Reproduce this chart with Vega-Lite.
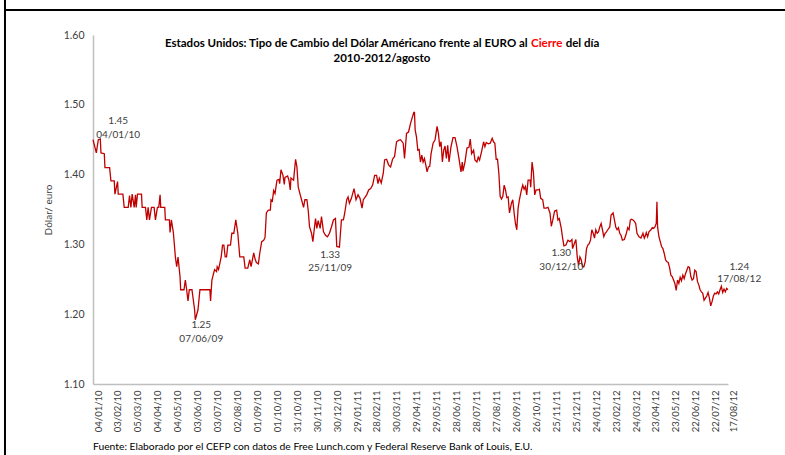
{
"$schema":"https://vega.github.io/schema/vega-lite/v6.json",
"width":635,"height":349,
"autosize":{"type":"none"},
"padding":{"left":93,"top":35,"right":57,"bottom":71},
"background":"white",
"config":{"view":{"stroke":null},"font":"Lato"},
"datasets":{
"serie":[
{"fecha":"2010-01-04","cierre":1.450},{"fecha":"2010-01-09","cierre":1.431},{"fecha":"2010-01-12","cierre":1.450},{"fecha":"2010-01-15","cierre":1.451},{"fecha":"2010-01-16","cierre":1.431},{"fecha":"2010-01-21","cierre":1.430},{"fecha":"2010-01-22","cierre":1.410},{"fecha":"2010-01-29","cierre":1.410},{"fecha":"2010-01-31","cierre":1.391},{"fecha":"2010-02-05","cierre":1.391},{"fecha":"2010-02-06","cierre":1.372},{"fecha":"2010-02-10","cierre":1.390},{"fecha":"2010-02-11","cierre":1.372},{"fecha":"2010-02-18","cierre":1.372},{"fecha":"2010-02-20","cierre":1.353},{"fecha":"2010-02-26","cierre":1.353},{"fecha":"2010-02-28","cierre":1.370},{"fecha":"2010-03-02","cierre":1.353},{"fecha":"2010-03-04","cierre":1.372},{"fecha":"2010-03-07","cierre":1.353},{"fecha":"2010-03-09","cierre":1.371},{"fecha":"2010-03-10","cierre":1.353},{"fecha":"2010-03-12","cierre":1.372},{"fecha":"2010-03-18","cierre":1.372},{"fecha":"2010-03-19","cierre":1.353},{"fecha":"2010-03-24","cierre":1.353},{"fecha":"2010-03-26","cierre":1.335},{"fecha":"2010-03-28","cierre":1.353},{"fecha":"2010-03-30","cierre":1.335},{"fecha":"2010-04-02","cierre":1.353},{"fecha":"2010-04-06","cierre":1.353},{"fecha":"2010-04-08","cierre":1.335},{"fecha":"2010-04-11","cierre":1.353},{"fecha":"2010-04-13","cierre":1.353},{"fecha":"2010-04-15","cierre":1.371},{"fecha":"2010-04-16","cierre":1.353},{"fecha":"2010-04-22","cierre":1.353},{"fecha":"2010-04-23","cierre":1.335},{"fecha":"2010-04-29","cierre":1.335},{"fecha":"2010-04-30","cierre":1.317},{"fecha":"2010-05-02","cierre":1.335},{"fecha":"2010-05-05","cierre":1.317},{"fecha":"2010-05-08","cierre":1.282},{"fecha":"2010-05-10","cierre":1.268},{"fecha":"2010-05-12","cierre":1.282},{"fecha":"2010-05-15","cierre":1.254},{"fecha":"2010-05-16","cierre":1.235},{"fecha":"2010-05-21","cierre":1.235},{"fecha":"2010-05-23","cierre":1.249},{"fecha":"2010-05-25","cierre":1.235},{"fecha":"2010-05-27","cierre":1.219},{"fecha":"2010-05-29","cierre":1.235},{"fecha":"2010-06-02","cierre":1.235},{"fecha":"2010-06-06","cierre":1.206},{"fecha":"2010-06-07","cierre":1.192},{"fecha":"2010-06-11","cierre":1.206},{"fecha":"2010-06-14","cierre":1.235},{"fecha":"2010-06-29","cierre":1.235},{"fecha":"2010-06-30","cierre":1.219},{"fecha":"2010-07-02","cierre":1.249},{"fecha":"2010-07-06","cierre":1.264},{"fecha":"2010-07-09","cierre":1.261},{"fecha":"2010-07-10","cierre":1.268},{"fecha":"2010-07-12","cierre":1.264},{"fecha":"2010-07-16","cierre":1.282},{"fecha":"2010-07-18","cierre":1.299},{"fecha":"2010-07-20","cierre":1.299},{"fecha":"2010-07-22","cierre":1.282},{"fecha":"2010-07-24","cierre":1.282},{"fecha":"2010-07-26","cierre":1.299},{"fecha":"2010-07-30","cierre":1.299},{"fecha":"2010-08-01","cierre":1.316},{"fecha":"2010-08-04","cierre":1.316},{"fecha":"2010-08-07","cierre":1.335},{"fecha":"2010-08-10","cierre":1.316},{"fecha":"2010-08-13","cierre":1.282},{"fecha":"2010-08-19","cierre":1.282},{"fecha":"2010-08-21","cierre":1.266},{"fecha":"2010-08-25","cierre":1.266},{"fecha":"2010-08-28","cierre":1.278},{"fecha":"2010-08-30","cierre":1.268},{"fecha":"2010-09-03","cierre":1.288},{"fecha":"2010-09-05","cierre":1.279},{"fecha":"2010-09-07","cierre":1.274},{"fecha":"2010-09-10","cierre":1.272},{"fecha":"2010-09-12","cierre":1.287},{"fecha":"2010-09-15","cierre":1.304},{"fecha":"2010-09-18","cierre":1.306},{"fecha":"2010-09-20","cierre":1.310},{"fecha":"2010-09-22","cierre":1.345},{"fecha":"2010-09-25","cierre":1.349},{"fecha":"2010-09-28","cierre":1.349},{"fecha":"2010-09-29","cierre":1.364},{"fecha":"2010-10-01","cierre":1.362},{"fecha":"2010-10-03","cierre":1.377},{"fecha":"2010-10-05","cierre":1.373},{"fecha":"2010-10-08","cierre":1.392},{"fecha":"2010-10-11","cierre":1.393},{"fecha":"2010-10-12","cierre":1.387},{"fecha":"2010-10-14","cierre":1.407},{"fecha":"2010-10-17","cierre":1.399},{"fecha":"2010-10-19","cierre":1.386},{"fecha":"2010-10-20","cierre":1.396},{"fecha":"2010-10-24","cierre":1.398},{"fecha":"2010-10-26","cierre":1.392},{"fecha":"2010-10-28","cierre":1.378},{"fecha":"2010-10-29","cierre":1.395},{"fecha":"2010-11-02","cierre":1.392},{"fecha":"2010-11-05","cierre":1.422},{"fecha":"2010-11-07","cierre":1.411},{"fecha":"2010-11-09","cierre":1.382},{"fecha":"2010-11-12","cierre":1.371},{"fecha":"2010-11-14","cierre":1.364},{"fecha":"2010-11-17","cierre":1.353},{"fecha":"2010-11-19","cierre":1.364},{"fecha":"2010-11-22","cierre":1.364},{"fecha":"2010-11-24","cierre":1.349},{"fecha":"2010-11-26","cierre":1.325},{"fecha":"2010-11-29","cierre":1.316},{"fecha":"2010-12-01","cierre":1.304},{"fecha":"2010-12-03","cierre":1.321},{"fecha":"2010-12-05","cierre":1.337},{"fecha":"2010-12-07","cierre":1.323},{"fecha":"2010-12-09","cierre":1.334},{"fecha":"2010-12-12","cierre":1.323},{"fecha":"2010-12-14","cierre":1.340},{"fecha":"2010-12-17","cierre":1.318},{"fecha":"2010-12-20","cierre":1.313},{"fecha":"2010-12-23","cierre":1.311},{"fecha":"2010-12-26","cierre":1.316},{"fecha":"2010-12-29","cierre":1.325},{"fecha":"2011-01-01","cierre":1.335},{"fecha":"2011-01-04","cierre":1.337},{"fecha":"2011-01-06","cierre":1.297},{"fecha":"2011-01-10","cierre":1.296},{"fecha":"2011-01-13","cierre":1.335},{"fecha":"2011-01-16","cierre":1.335},{"fecha":"2011-01-18","cierre":1.345},{"fecha":"2011-01-21","cierre":1.364},{"fecha":"2011-01-23","cierre":1.368},{"fecha":"2011-01-25","cierre":1.359},{"fecha":"2011-01-28","cierre":1.366},{"fecha":"2011-02-01","cierre":1.380},{"fecha":"2011-02-04","cierre":1.364},{"fecha":"2011-02-07","cierre":1.371},{"fecha":"2011-02-10","cierre":1.366},{"fecha":"2011-02-13","cierre":1.352},{"fecha":"2011-02-15","cierre":1.364},{"fecha":"2011-02-18","cierre":1.368},{"fecha":"2011-02-20","cierre":1.371},{"fecha":"2011-02-23","cierre":1.378},{"fecha":"2011-02-26","cierre":1.380},{"fecha":"2011-03-01","cierre":1.385},{"fecha":"2011-03-04","cierre":1.399},{"fecha":"2011-03-07","cierre":1.399},{"fecha":"2011-03-09","cierre":1.387},{"fecha":"2011-03-11","cierre":1.395},{"fecha":"2011-03-14","cierre":1.388},{"fecha":"2011-03-17","cierre":1.402},{"fecha":"2011-03-19","cierre":1.421},{"fecha":"2011-03-22","cierre":1.422},{"fecha":"2011-03-25","cierre":1.414},{"fecha":"2011-03-28","cierre":1.411},{"fecha":"2011-03-31","cierre":1.422},{"fecha":"2011-04-03","cierre":1.426},{"fecha":"2011-04-06","cierre":1.447},{"fecha":"2011-04-09","cierre":1.449},{"fecha":"2011-04-12","cierre":1.450},{"fecha":"2011-04-16","cierre":1.445},{"fecha":"2011-04-18","cierre":1.423},{"fecha":"2011-04-21","cierre":1.459},{"fecha":"2011-04-24","cierre":1.461},{"fecha":"2011-04-27","cierre":1.473},{"fecha":"2011-04-30","cierre":1.483},{"fecha":"2011-05-02","cierre":1.489},{"fecha":"2011-05-03","cierre":1.489},{"fecha":"2011-05-04","cierre":1.464},{"fecha":"2011-05-06","cierre":1.454},{"fecha":"2011-05-08","cierre":1.435},{"fecha":"2011-05-10","cierre":1.436},{"fecha":"2011-05-12","cierre":1.418},{"fecha":"2011-05-14","cierre":1.428},{"fecha":"2011-05-16","cierre":1.418},{"fecha":"2011-05-18","cierre":1.423},{"fecha":"2011-05-20","cierre":1.414},{"fecha":"2011-05-22","cierre":1.404},{"fecha":"2011-05-24","cierre":1.411},{"fecha":"2011-05-26","cierre":1.412},{"fecha":"2011-05-28","cierre":1.430},{"fecha":"2011-05-31","cierre":1.445},{"fecha":"2011-06-03","cierre":1.450},{"fecha":"2011-06-06","cierre":1.469},{"fecha":"2011-06-08","cierre":1.459},{"fecha":"2011-06-10","cierre":1.440},{"fecha":"2011-06-12","cierre":1.447},{"fecha":"2011-06-14","cierre":1.418},{"fecha":"2011-06-16","cierre":1.435},{"fecha":"2011-06-18","cierre":1.441},{"fecha":"2011-06-20","cierre":1.423},{"fecha":"2011-06-22","cierre":1.442},{"fecha":"2011-06-24","cierre":1.418},{"fecha":"2011-06-27","cierre":1.440},{"fecha":"2011-06-30","cierre":1.453},{"fecha":"2011-07-03","cierre":1.453},{"fecha":"2011-07-06","cierre":1.440},{"fecha":"2011-07-09","cierre":1.423},{"fecha":"2011-07-12","cierre":1.404},{"fecha":"2011-07-14","cierre":1.418},{"fecha":"2011-07-15","cierre":1.405},{"fecha":"2011-07-18","cierre":1.418},{"fecha":"2011-07-21","cierre":1.438},{"fecha":"2011-07-24","cierre":1.439},{"fecha":"2011-07-26","cierre":1.451},{"fecha":"2011-07-28","cierre":1.430},{"fecha":"2011-07-31","cierre":1.435},{"fecha":"2011-08-02","cierre":1.421},{"fecha":"2011-08-05","cierre":1.418},{"fecha":"2011-08-07","cierre":1.425},{"fecha":"2011-08-09","cierre":1.421},{"fecha":"2011-08-12","cierre":1.433},{"fecha":"2011-08-15","cierre":1.447},{"fecha":"2011-08-17","cierre":1.440},{"fecha":"2011-08-19","cierre":1.446},{"fecha":"2011-08-22","cierre":1.444},{"fecha":"2011-08-25","cierre":1.445},{"fecha":"2011-08-28","cierre":1.452},{"fecha":"2011-08-30","cierre":1.447},{"fecha":"2011-09-01","cierre":1.445},{"fecha":"2011-09-03","cierre":1.422},{"fecha":"2011-09-05","cierre":1.422},{"fecha":"2011-09-07","cierre":1.402},{"fecha":"2011-09-09","cierre":1.369},{"fecha":"2011-09-11","cierre":1.365},{"fecha":"2011-09-13","cierre":1.369},{"fecha":"2011-09-15","cierre":1.385},{"fecha":"2011-09-17","cierre":1.378},{"fecha":"2011-09-19","cierre":1.367},{"fecha":"2011-09-21","cierre":1.368},{"fecha":"2011-09-23","cierre":1.345},{"fecha":"2011-09-26","cierre":1.359},{"fecha":"2011-09-28","cierre":1.364},{"fecha":"2011-09-30","cierre":1.345},{"fecha":"2011-10-02","cierre":1.330},{"fecha":"2011-10-04","cierre":1.321},{"fecha":"2011-10-06","cierre":1.352},{"fecha":"2011-10-08","cierre":1.364},{"fecha":"2011-10-11","cierre":1.378},{"fecha":"2011-10-13","cierre":1.385},{"fecha":"2011-10-15","cierre":1.379},{"fecha":"2011-10-17","cierre":1.383},{"fecha":"2011-10-19","cierre":1.371},{"fecha":"2011-10-21","cierre":1.392},{"fecha":"2011-10-24","cierre":1.392},{"fecha":"2011-10-25","cierre":1.382},{"fecha":"2011-10-27","cierre":1.418},{"fecha":"2011-10-29","cierre":1.404},{"fecha":"2011-10-31","cierre":1.371},{"fecha":"2011-11-02","cierre":1.378},{"fecha":"2011-11-05","cierre":1.378},{"fecha":"2011-11-07","cierre":1.379},{"fecha":"2011-11-09","cierre":1.366},{"fecha":"2011-11-12","cierre":1.364},{"fecha":"2011-11-14","cierre":1.352},{"fecha":"2011-11-17","cierre":1.352},{"fecha":"2011-11-20","cierre":1.353},{"fecha":"2011-11-23","cierre":1.345},{"fecha":"2011-11-25","cierre":1.326},{"fecha":"2011-11-27","cierre":1.334},{"fecha":"2011-11-30","cierre":1.348},{"fecha":"2011-12-03","cierre":1.349},{"fecha":"2011-12-05","cierre":1.335},{"fecha":"2011-12-07","cierre":1.337},{"fecha":"2011-12-10","cierre":1.323},{"fecha":"2011-12-12","cierre":1.309},{"fecha":"2011-12-14","cierre":1.298},{"fecha":"2011-12-17","cierre":1.299},{"fecha":"2011-12-20","cierre":1.306},{"fecha":"2011-12-23","cierre":1.304},{"fecha":"2011-12-26","cierre":1.307},{"fecha":"2011-12-27","cierre":1.294},{"fecha":"2011-12-30","cierre":1.302},{"fecha":"2012-01-01","cierre":1.307},{"fecha":"2012-01-03","cierre":1.282},{"fecha":"2012-01-05","cierre":1.270},{"fecha":"2012-01-07","cierre":1.282},{"fecha":"2012-01-09","cierre":1.278},{"fecha":"2012-01-11","cierre":1.268},{"fecha":"2012-01-13","cierre":1.268},{"fecha":"2012-01-15","cierre":1.275},{"fecha":"2012-01-17","cierre":1.294},{"fecha":"2012-01-19","cierre":1.299},{"fecha":"2012-01-21","cierre":1.301},{"fecha":"2012-01-23","cierre":1.306},{"fecha":"2012-01-25","cierre":1.321},{"fecha":"2012-01-27","cierre":1.316},{"fecha":"2012-01-29","cierre":1.309},{"fecha":"2012-01-31","cierre":1.321},{"fecha":"2012-02-02","cierre":1.316},{"fecha":"2012-02-04","cierre":1.318},{"fecha":"2012-02-06","cierre":1.325},{"fecha":"2012-02-08","cierre":1.330},{"fecha":"2012-02-10","cierre":1.321},{"fecha":"2012-02-12","cierre":1.311},{"fecha":"2012-02-14","cierre":1.316},{"fecha":"2012-02-16","cierre":1.318},{"fecha":"2012-02-18","cierre":1.321},{"fecha":"2012-02-21","cierre":1.325},{"fecha":"2012-02-23","cierre":1.342},{"fecha":"2012-02-26","cierre":1.345},{"fecha":"2012-02-28","cierre":1.335},{"fecha":"2012-03-01","cierre":1.325},{"fecha":"2012-03-03","cierre":1.321},{"fecha":"2012-03-05","cierre":1.324},{"fecha":"2012-03-07","cierre":1.316},{"fecha":"2012-03-09","cierre":1.313},{"fecha":"2012-03-11","cierre":1.306},{"fecha":"2012-03-14","cierre":1.307},{"fecha":"2012-03-17","cierre":1.316},{"fecha":"2012-03-19","cierre":1.324},{"fecha":"2012-03-21","cierre":1.321},{"fecha":"2012-03-23","cierre":1.335},{"fecha":"2012-03-25","cierre":1.336},{"fecha":"2012-03-27","cierre":1.335},{"fecha":"2012-03-29","cierre":1.333},{"fecha":"2012-03-31","cierre":1.330},{"fecha":"2012-04-02","cierre":1.316},{"fecha":"2012-04-05","cierre":1.311},{"fecha":"2012-04-08","cierre":1.309},{"fecha":"2012-04-11","cierre":1.316},{"fecha":"2012-04-13","cierre":1.309},{"fecha":"2012-04-14","cierre":1.311},{"fecha":"2012-04-16","cierre":1.317},{"fecha":"2012-04-18","cierre":1.311},{"fecha":"2012-04-20","cierre":1.318},{"fecha":"2012-04-23","cierre":1.321},{"fecha":"2012-04-25","cierre":1.324},{"fecha":"2012-04-27","cierre":1.323},{"fecha":"2012-04-29","cierre":1.325},{"fecha":"2012-05-01","cierre":1.330},{"fecha":"2012-05-02","cierre":1.361},{"fecha":"2012-05-03","cierre":1.325},{"fecha":"2012-05-05","cierre":1.311},{"fecha":"2012-05-07","cierre":1.304},{"fecha":"2012-05-09","cierre":1.297},{"fecha":"2012-05-11","cierre":1.294},{"fecha":"2012-05-13","cierre":1.287},{"fecha":"2012-05-15","cierre":1.278},{"fecha":"2012-05-17","cierre":1.275},{"fecha":"2012-05-19","cierre":1.274},{"fecha":"2012-05-21","cierre":1.267},{"fecha":"2012-05-23","cierre":1.256},{"fecha":"2012-05-25","cierre":1.254},{"fecha":"2012-05-27","cierre":1.249},{"fecha":"2012-05-29","cierre":1.244},{"fecha":"2012-05-31","cierre":1.234},{"fecha":"2012-06-02","cierre":1.249},{"fecha":"2012-06-04","cierre":1.244},{"fecha":"2012-06-06","cierre":1.253},{"fecha":"2012-06-08","cierre":1.248},{"fecha":"2012-06-10","cierre":1.256},{"fecha":"2012-06-12","cierre":1.251},{"fecha":"2012-06-14","cierre":1.258},{"fecha":"2012-06-16","cierre":1.263},{"fecha":"2012-06-18","cierre":1.268},{"fecha":"2012-06-20","cierre":1.267},{"fecha":"2012-06-22","cierre":1.254},{"fecha":"2012-06-24","cierre":1.249},{"fecha":"2012-06-26","cierre":1.251},{"fecha":"2012-06-28","cierre":1.263},{"fecha":"2012-06-30","cierre":1.261},{"fecha":"2012-07-02","cierre":1.247},{"fecha":"2012-07-04","cierre":1.242},{"fecha":"2012-07-06","cierre":1.235},{"fecha":"2012-07-08","cierre":1.232},{"fecha":"2012-07-10","cierre":1.230},{"fecha":"2012-07-12","cierre":1.220},{"fecha":"2012-07-14","cierre":1.223},{"fecha":"2012-07-16","cierre":1.226},{"fecha":"2012-07-18","cierre":1.231},{"fecha":"2012-07-20","cierre":1.223},{"fecha":"2012-07-22","cierre":1.212},{"fecha":"2012-07-24","cierre":1.218},{"fecha":"2012-07-26","cierre":1.226},{"fecha":"2012-07-28","cierre":1.230},{"fecha":"2012-07-30","cierre":1.229},{"fecha":"2012-08-01","cierre":1.232},{"fecha":"2012-08-03","cierre":1.229},{"fecha":"2012-08-05","cierre":1.235},{"fecha":"2012-08-07","cierre":1.240},{"fecha":"2012-08-09","cierre":1.231},{"fecha":"2012-08-11","cierre":1.236},{"fecha":"2012-08-13","cierre":1.232},{"fecha":"2012-08-15","cierre":1.237},{"fecha":"2012-08-17","cierre":1.235}
],
"etiquetas":[
{"fecha":"2010-02-11","cierre":1.4772,"texto":"1.45"},{"fecha":"2010-02-11","cierre":1.4567,"texto":"04/01/10"},
{"fecha":"2010-06-16","cierre":1.1845,"texto":"1.25"},{"fecha":"2010-06-16","cierre":1.164,"texto":"07/06/09"},
{"fecha":"2010-12-27","cierre":1.2848,"texto":"1.33"},{"fecha":"2010-12-27","cierre":1.2658,"texto":"25/11/09"},
{"fecha":"2011-12-10","cierre":1.2877,"texto":"1.30"},{"fecha":"2011-12-10","cierre":1.2681,"texto":"30/12/10"},
{"fecha":"2012-09-03","cierre":1.2672,"texto":"1.24"},{"fecha":"2012-09-03","cierre":1.250,"texto":"17/08/12"}
]
},
"layer":[
{"data":{"name":"serie"},
 "mark":{"type":"line","color":"#C00000","strokeWidth":1.3},
 "encoding":{
  "x":{"field":"fecha","type":"temporal",
   "scale":{"type":"utc","domain":[{"year":2010,"month":1,"date":4,"utc":true},{"year":2012,"month":8,"date":17,"utc":true}]},
   "axis":{"title":null,"grid":false,"ticks":false,"tickCount":100,"format":"%d/%m/%y","labelAngle":270,"labelFont":"Lato","labelFontSize":9.5,"labelColor":"#404040","labelPadding":6,"labelOffset":5,"labelOverlap":false,"labelFlush":false,"labelBound":false,"domainColor":"#BFBFBF","domainWidth":1.5,
    "values":[{"year":2010,"month":1,"date":4,"utc":true},{"year":2010,"month":2,"date":3,"utc":true},{"year":2010,"month":3,"date":5,"utc":true},{"year":2010,"month":4,"date":4,"utc":true},{"year":2010,"month":5,"date":4,"utc":true},{"year":2010,"month":6,"date":3,"utc":true},{"year":2010,"month":7,"date":3,"utc":true},{"year":2010,"month":8,"date":2,"utc":true},{"year":2010,"month":9,"date":1,"utc":true},{"year":2010,"month":10,"date":1,"utc":true},{"year":2010,"month":10,"date":31,"utc":true},{"year":2010,"month":11,"date":30,"utc":true},{"year":2010,"month":12,"date":30,"utc":true},{"year":2011,"month":1,"date":29,"utc":true},{"year":2011,"month":2,"date":28,"utc":true},{"year":2011,"month":3,"date":30,"utc":true},{"year":2011,"month":4,"date":29,"utc":true},{"year":2011,"month":5,"date":29,"utc":true},{"year":2011,"month":6,"date":28,"utc":true},{"year":2011,"month":7,"date":28,"utc":true},{"year":2011,"month":8,"date":27,"utc":true},{"year":2011,"month":9,"date":26,"utc":true},{"year":2011,"month":10,"date":26,"utc":true},{"year":2011,"month":11,"date":25,"utc":true},{"year":2011,"month":12,"date":25,"utc":true},{"year":2012,"month":1,"date":24,"utc":true},{"year":2012,"month":2,"date":23,"utc":true},{"year":2012,"month":3,"date":24,"utc":true},{"year":2012,"month":4,"date":23,"utc":true},{"year":2012,"month":5,"date":23,"utc":true},{"year":2012,"month":6,"date":22,"utc":true},{"year":2012,"month":7,"date":22,"utc":true},{"year":2012,"month":8,"date":17,"utc":true}]}},
  "y":{"field":"cierre","type":"quantitative",
   "scale":{"domain":[1.1,1.6],"zero":false,"nice":false},
   "axis":{"title":"Dólar/ euro","titleFont":"Lato","titleFontSize":10,"titleFontWeight":"normal","titleColor":"#404040","titlePadding":10,"grid":false,"ticks":false,"values":[1.1,1.2,1.3,1.4,1.5,1.6],"format":".2f","labelFont":"Lato","labelFontSize":10.5,"labelColor":"#404040","labelPadding":9,"domainColor":"#BFBFBF","domainWidth":1.5}}
 }},
{"data":{"name":"etiquetas"},
 "mark":{"type":"text","font":"Lato","fontSize":10,"color":"#404040","align":"center","baseline":"middle"},
 "encoding":{"x":{"field":"fecha","type":"temporal"},"y":{"field":"cierre","type":"quantitative"},"text":{"field":"texto","type":"nominal"}}},
{"data":{"values":[{}]},
 "mark":{"type":"text","text":"Estados Unidos: Tipo de Cambio del Dólar Américano frente al EURO al","align":"right","baseline":"middle","dx":-19,"font":"Lato","fontSize":11.5,"fontWeight":"bold","color":"#000000"},
 "encoding":{"x":{"datum":{"year":2011,"month":11,"date":18,"utc":true},"type":"temporal"},"y":{"datum":1.587,"type":"quantitative"}}},
{"data":{"values":[{}]},
 "mark":{"type":"text","text":"Cierre","align":"center","baseline":"middle","font":"Lato","fontSize":11.5,"fontWeight":"bold","color":"#FF0000"},
 "encoding":{"x":{"datum":{"year":2011,"month":11,"date":18,"utc":true},"type":"temporal"},"y":{"datum":1.587,"type":"quantitative"}}},
{"data":{"values":[{}]},
 "mark":{"type":"text","text":"del día","align":"left","baseline":"middle","dx":19,"font":"Lato","fontSize":11.5,"fontWeight":"bold","color":"#000000"},
 "encoding":{"x":{"datum":{"year":2011,"month":11,"date":18,"utc":true},"type":"temporal"},"y":{"datum":1.587,"type":"quantitative"}}},
{"data":{"values":[{}]},
 "mark":{"type":"text","text":"2010-2012/agosto","align":"center","baseline":"middle","font":"Lato","fontSize":11.5,"fontWeight":"bold","color":"#000000"},
 "encoding":{"x":{"datum":{"year":2011,"month":3,"date":15,"utc":true},"type":"temporal"},"y":{"datum":1.565,"type":"quantitative"}}},
{"data":{"values":[{}]},
 "mark":{"type":"text","text":"Fuente: Elaborado por el CEFP con datos de Free Lunch.com y Federal Reserve Bank of Louis, E.U.","align":"left","baseline":"middle","font":"Lato","fontSize":10.3,"color":"#000000"},
 "encoding":{"x":{"datum":{"year":2010,"month":1,"date":4,"utc":true},"type":"temporal"},"y":{"datum":1.0097,"type":"quantitative"}}},
{"data":{"values":[{}]},
 "mark":{"type":"rule","color":"#000000","strokeWidth":2},
 "encoding":{"x":{"datum":{"year":2009,"month":8,"date":24,"hours":12,"utc":true},"type":"temporal"},"x2":{"datum":{"year":2012,"month":12,"date":31,"utc":true}},"y":{"datum":1.6358,"type":"quantitative"}}},
{"data":{"values":[{}]},
 "mark":{"type":"rule","color":"#000000","strokeWidth":2},
 "encoding":{"x":{"datum":{"year":2009,"month":8,"date":24,"hours":12,"utc":true},"type":"temporal"},"y":{"datum":1.66,"type":"quantitative"},"y2":{"datum":0.98}}}
]
}
